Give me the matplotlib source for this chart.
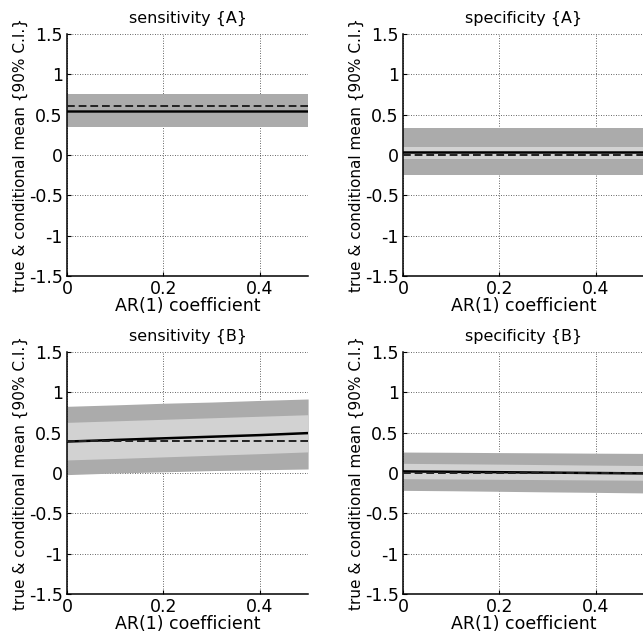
import matplotlib
matplotlib.use('Agg')
import matplotlib.pyplot as plt

# ------------------------------------------------------------
# data
# ------------------------------------------------------------
ar_coef = [0.0, 0.1, 0.2, 0.3, 0.4, 0.5]

titles = ['sensitivity {A}', 'specificity {A}', 'sensitivity {B}', 'specificity {B}']

# conditional mean (solid) and true value (dashed)
sensA_mean = [0.55, 0.55, 0.55, 0.55, 0.55, 0.55]
sensA_true = [0.61, 0.61, 0.61, 0.61, 0.61, 0.61]
specA_mean = [0.035, 0.035, 0.035, 0.035, 0.035, 0.035]
specA_true = [0.0, 0.0, 0.0, 0.0, 0.0, 0.0]
sensB_mean = [0.39, 0.41, 0.43, 0.45, 0.47, 0.495]
sensB_true = [0.395, 0.395, 0.395, 0.395, 0.395, 0.395]
specB_mean = [0.02, 0.015, 0.01, 0.005, 0.0, -0.005]
specB_true = [0.0, 0.0, 0.0, 0.0, 0.0, 0.0]

# 90% C.I. (outer, dark grey)
sensA_lo90 = [0.35, 0.35, 0.35, 0.35, 0.35, 0.35]
sensA_hi90 = [0.755, 0.755, 0.755, 0.755, 0.755, 0.755]
specA_lo90 = [-0.25, -0.25, -0.25, -0.25, -0.25, -0.25]
specA_hi90 = [0.34, 0.34, 0.34, 0.34, 0.34, 0.34]
sensB_lo90 = [-0.02, 0.0, 0.015, 0.03, 0.04, 0.05]
sensB_hi90 = [0.827, 0.845, 0.865, 0.88, 0.9, 0.918]
specB_lo90 = [-0.215, -0.22, -0.227, -0.234, -0.24, -0.247]
specB_hi90 = [0.26, 0.257, 0.253, 0.25, 0.246, 0.243]

# inner band (light grey)
sensA_lo_in = [0.515, 0.515, 0.515, 0.515, 0.515, 0.515]
sensA_hi_in = [0.555, 0.555, 0.555, 0.555, 0.555, 0.555]
specA_lo_in = [-0.05, -0.05, -0.05, -0.05, -0.05, -0.05]
specA_hi_in = [0.10, 0.10, 0.10, 0.10, 0.10, 0.10]
sensB_lo_in = [0.162, 0.18, 0.2, 0.22, 0.24, 0.262]
sensB_hi_in = [0.628, 0.647, 0.666, 0.685, 0.704, 0.723]
specB_lo_in = [-0.07, -0.074, -0.078, -0.082, -0.086, -0.09]
specB_hi_in = [0.12, 0.115, 0.11, 0.104, 0.098, 0.093]

panels = [
    (sensA_mean, sensA_true, sensA_lo90, sensA_hi90, sensA_lo_in, sensA_hi_in),
    (specA_mean, specA_true, specA_lo90, specA_hi90, specA_lo_in, specA_hi_in),
    (sensB_mean, sensB_true, sensB_lo90, sensB_hi90, sensB_lo_in, sensB_hi_in),
    (specB_mean, specB_true, specB_lo90, specB_hi90, specB_lo_in, specB_hi_in),
]

yticks = [-1.5, -1, -0.5, 0, 0.5, 1, 1.5]
ytick_labels = ['-1.5', '-1', '-0.5', '0', '0.5', '1', '1.5']
xticks = [0, 0.2, 0.4]
xtick_labels = ['0', '0.2', '0.4']

C_DARK = '#ababab'
C_LIGHT = '#d2d2d2'

fig = plt.figure(figsize=(6.43, 6.35), dpi=100)

# axes rectangles in figure fraction (right column runs off the page, like the scan)
W, H = 0.375, 0.381
positions = [
    (0.1042, 0.5654), (0.6267, 0.5654),
    (0.1042, 0.0646), (0.6267, 0.0646),
]

for (x0, y0), title, (mean, true, lo90, hi90, lo_in, hi_in) in zip(positions, titles, panels):
    ax = fig.add_axes([x0, y0, W, H])
    ax.fill_between(ar_coef, lo90, hi90, color=C_DARK, lw=0, zorder=1)
    ax.fill_between(ar_coef, lo_in, hi_in, color=C_LIGHT, lw=0, zorder=1.1)
    ax.plot(ar_coef, mean, color='black', lw=1.8, zorder=3)
    ax.plot(ar_coef, true, color='#222222', lw=1.4, ls=(0, (4, 2)), zorder=3.1)

    ax.set_xlim(0, 0.5)
    ax.set_ylim(-1.5, 1.5)
    ax.set_xticks(xticks)
    ax.set_xticklabels(xtick_labels)
    ax.set_yticks(yticks)
    ax.set_yticklabels(ytick_labels)
    ax.tick_params(direction='in', length=3, labelsize=12.5, pad=3)
    ax.grid(True, color='#333333', ls=(0, (1, 2)), lw=0.6)
    ax.set_axisbelow(True)
    for side in ['top', 'right']:
        ax.spines[side].set_visible(False)
    ax.spines['left'].set_linewidth(1.1)
    ax.spines['bottom'].set_linewidth(1.1)

    ax.set_title(title, fontsize=11.5, pad=8)
    ax.set_xlabel('AR(1) coefficient', fontsize=12.5, labelpad=-1)
    ax.set_ylabel('true & conditional mean {90% C.I.}', fontsize=11, labelpad=1)

fig.savefig('out.png', dpi=100)
